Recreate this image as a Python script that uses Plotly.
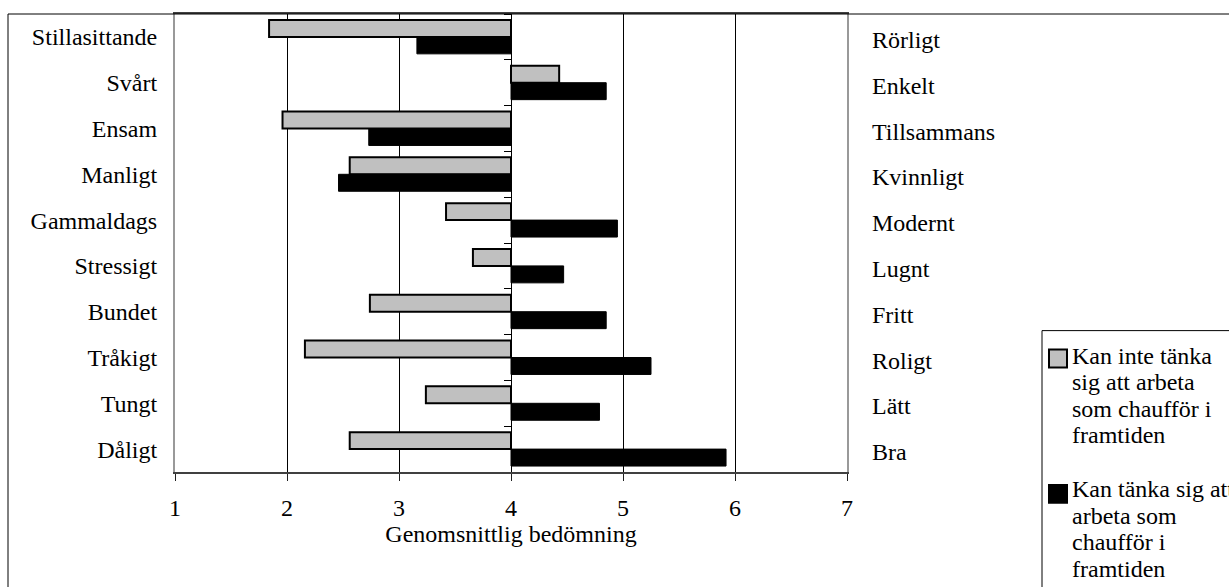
import plotly.graph_objects as go

# ---- data ----
left_labels = ["Stillasittande", "Svårt", "Ensam", "Manligt", "Gammaldags",
               "Stressigt", "Bundet", "Tråkigt", "Tungt", "Dåligt"]
right_labels = ["Rörligt", "Enkelt", "Tillsammans", "Kvinnligt", "Modernt",
                "Lugnt", "Fritt", "Roligt", "Lätt", "Bra"]
cannot_values = [1.84, 4.43, 1.96, 2.56, 3.42, 3.66, 2.74, 2.16, 3.24, 2.56]
can_values = [3.16, 4.85, 2.73, 2.46, 4.95, 4.47, 4.85, 5.25, 4.79, 5.92]
series_names = ["Kan inte tänka sig att arbeta som chaufför i framtiden",
                "Kan tänka sig att arbeta som chaufför i framtiden"]
legend_lines = [["Kan inte tänka", "sig att arbeta", "som chaufför i", "framtiden"],
                ["Kan tänka sig att", "arbeta som", "chaufför i", "framtiden"]]
x_ticks = [1, 2, 3, 4, 5, 6, 7]
midpoint = 4
x_title = "Genomsnittlig bedömning"

FONT = "Times New Roman, Liberation Serif, DejaVu Serif, serif"
FS = 24
W, H = 1229, 587
ML, MR, MT, MB = 175, 382, 12, 115
PW = W - ML - MR
PH = H - MT - MB


def px_x(p):
    return (p - ML) / PW


def px_y(p):
    return (H - MB - p) / PH


fig = go.Figure()
fig.add_trace(go.Bar(
    y=left_labels, x=[v - midpoint for v in cannot_values], base=midpoint,
    orientation="h", name=series_names[0],
    marker=dict(color="#C0C0C0", line=dict(color="black", width=2)),
))
fig.add_trace(go.Bar(
    y=left_labels, x=[v - midpoint for v in can_values], base=midpoint,
    orientation="h", name=series_names[1],
    marker=dict(color="black", line=dict(color="black", width=1)),
))
# invisible trace to carry the central category axis (tick marks at boundaries)
fig.add_trace(go.Scatter(
    x=[midpoint] * len(left_labels), y=left_labels, yaxis="y2",
    mode="markers", marker=dict(opacity=0), hoverinfo="skip", showlegend=False,
))

annotations = []
for lab, rl in zip(left_labels, right_labels):
    annotations.append(dict(
        x=1, xref="paper", y=lab, yref="y", text=rl, showarrow=False,
        xanchor="left", yanchor="middle", xshift=23, yshift=-3,
        font=dict(family=FONT, size=FS, color="black"),
    ))

shapes = [
    # outer chart frame
    dict(type="rect", xref="paper", yref="paper",
         x0=px_x(8), x1=px_x(1300), y0=px_y(650), y1=px_y(12),
         line=dict(color="black", width=1), fillcolor="rgba(0,0,0,0)", layer="above"),
    # legend box
    dict(type="rect", xref="paper", yref="paper",
         x0=px_x(1042), x1=px_x(1300), y0=px_y(650), y1=px_y(330),
         line=dict(color="black", width=1), fillcolor="white", layer="above"),
]

legend_colors = ["#C0C0C0", "black"]
legend_first = [363, 497]
legend_square_center = [358, 494]
line_step = 26.7
for i, lines in enumerate(legend_lines):
    base = legend_first[i]
    sq_c = legend_square_center[i]
    shapes.append(dict(type="rect", xref="paper", yref="paper",
                       x0=px_x(1049), x1=px_x(1067), y0=px_y(sq_c + 9), y1=px_y(sq_c - 9),
                       line=dict(color="black", width=2), fillcolor=legend_colors[i],
                       layer="above"))
    for j, t in enumerate(lines):
        bl = base + j * line_step
        annotations.append(dict(
            x=px_x(1070), xref="paper", y=px_y(bl - 8), yref="paper", text=t,
            showarrow=False, xanchor="left", yanchor="middle",
            font=dict(family=FONT, size=FS, color="black"),
        ))

fig.update_layout(
    width=W, height=H,
    margin=dict(l=ML, r=MR, t=MT, b=MB),
    paper_bgcolor="white", plot_bgcolor="white",
    barmode="group", bargap=0.26, bargroupgap=0,
    showlegend=False,
    font=dict(family=FONT, size=FS, color="black"),
    xaxis=dict(
        range=[x_ticks[0], x_ticks[-1]], tickvals=x_ticks,
        showgrid=True, gridcolor="black", gridwidth=1, zeroline=False,
        showline=True, linecolor="#404040", linewidth=2, mirror=True,
        ticks="outside", ticklen=7, tickcolor="#202020", tickwidth=1,
        ticklabelstandoff=6,
        tickfont=dict(family=FONT, size=FS, color="black"),
        title=dict(text=x_title, standoff=0,
                   font=dict(family=FONT, size=FS, color="black")),
    ),
    yaxis=dict(
        type="category", categoryarray=left_labels, categoryorder="array",
        range=[len(left_labels) - 0.5, -0.5],
        showgrid=False, zeroline=False,
        showline=True, linecolor="#999999", linewidth=2, mirror=True,
        ticks="", ticklabelstandoff=11,
        tickfont=dict(family=FONT, size=FS, color="black"),
    ),
    yaxis2=dict(
        type="category", categoryarray=left_labels, categoryorder="array",
        range=[len(left_labels) - 0.5, -0.5],
        overlaying="y", anchor="free", position=0.5,
        showgrid=False, zeroline=False, showline=True, linecolor="black", linewidth=1,
        ticks="outside", ticklen=7, tickcolor="black", tickson="boundaries",
        showticklabels=False,
    ),
    shapes=shapes,
    annotations=annotations,
)

fig.write_html("out.html")
